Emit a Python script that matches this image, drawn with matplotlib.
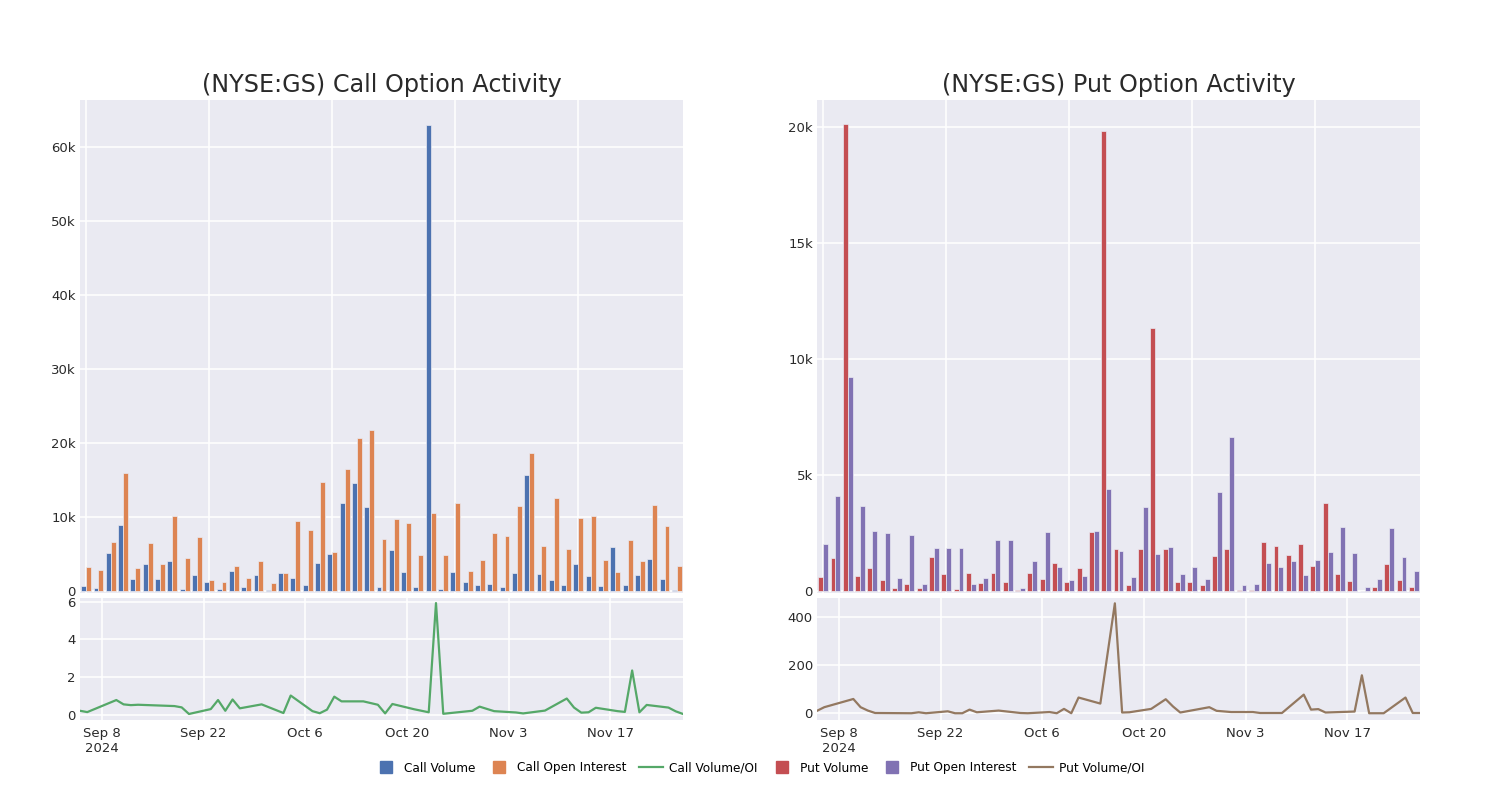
import numpy as np
import pandas as pd
import matplotlib
matplotlib.use("Agg")
import matplotlib.pyplot as plt
from matplotlib.lines import Line2D

# trading days shown (one bar pair per day)
dates = pd.to_datetime([
    "2024-09-05", "2024-09-06", "2024-09-10", "2024-09-11", "2024-09-12", "2024-09-13",
    "2024-09-18", "2024-09-19", "2024-09-20", "2024-09-23", "2024-09-24", "2024-09-25",
    "2024-09-26", "2024-09-27", "2024-09-30", "2024-10-03", "2024-10-04", "2024-10-07",
    "2024-10-08", "2024-10-09", "2024-10-10", "2024-10-11", "2024-10-14", "2024-10-16",
    "2024-10-17", "2024-10-18", "2024-10-21", "2024-10-23", "2024-10-24", "2024-10-25",
    "2024-10-29", "2024-10-30", "2024-11-01", "2024-11-04", "2024-11-05", "2024-11-08",
    "2024-11-11", "2024-11-12", "2024-11-13", "2024-11-14", "2024-11-15", "2024-11-18",
    "2024-11-19", "2024-11-20", "2024-11-21", "2024-11-22", "2024-11-25", "2024-11-26",
    "2024-11-27",
])

call_volume = [630, 360, 5090, 8830, 1580, 3560, 1620, 4000, 180, 2160, 1130, 230,
               2700, 540, 2120, 90, 2430, 1710, 720, 3780, 4950, 11850, 14500, 11350,
               450, 5540, 2520, 540, 62970, 230, 2480, 1130, 720, 950, 500, 2430,
               15680, 2250, 1490, 770, 3650, 1940, 590, 5900, 770, 2070, 4230, 1530, 90]
call_oi = [3240, 2840, 6580, 15860, 3110, 6490, 3600, 10100, 4370, 7200, 1440, 1170,
           3380, 1670, 3960, 990, 2390, 9370, 8240, 14680, 5230, 16490, 20590, 21700,
           6940, 9680, 9140, 4820, 10540, 4860, 11850, 2700, 4100, 7790, 7430, 11400,
           18650, 6040, 12480, 5680, 9860, 10140, 4190, 2480, 6850, 4010, 11580, 8780, 3290]
call_ratio = [0.21, 0.14, 0.78, 0.55, 0.51, 0.53, 0.46, 0.39, 0.04, 0.30, 0.78, 0.21,
              0.81, 0.34, 0.55, 0.09, 1.02, 0.19, 0.08, 0.27, 0.96, 0.71, 0.71, 0.53,
              0.07, 0.57, 0.29, 0.13, 5.93, 0.05, 0.21, 0.43, 0.19, 0.12, 0.07, 0.22,
              0.86, 0.38, 0.11, 0.13, 0.37, 0.19, 0.15, 2.35, 0.13, 0.52, 0.38, 0.18, 0.04]

put_volume = [600, 1410, 20100, 630, 990, 460, 100, 270, 130, 1450, 700, 70,
              780, 330, 760, 390, 10, 780, 490, 1190, 390, 960, 2530, 19800,
              1780, 230, 1780, 11310, 1780, 390, 390, 240, 1510, 1780, 30, 10,
              2080, 1910, 1520, 2030, 1080, 3800, 730, 430, 0, 140, 1160, 450, 170]
put_oi = [2000, 4080, 9190, 3670, 2590, 2470, 550, 2400, 290, 1850, 1850, 1850,
          300, 550, 2200, 2200, 120, 1270, 2520, 1040, 460, 630, 2570, 4400,
          1710, 600, 3610, 1580, 1880, 730, 1020, 500, 4240, 6640, 240, 300,
          1190, 1020, 1290, 690, 1320, 1670, 2730, 1610, 140, 500, 2690, 1470, 850]
put_ratio = [10, 25, 59, 25, 11, 1, 0, 4, 0, 8, 0, 0,
             15, 4, 11, 1, 0, 5, 0, 18, 0, 65, 40, 455,
             3, 4, 18, 58, 28, 3, 25, 10, 5, 5, 1, 1,
             77, 15, 17, 3, 4, 7, 157, 0, 0, 0, 65, 1, 1]

date_ticks = pd.to_datetime(["2024-09-08", "2024-09-22", "2024-10-06",
                             "2024-10-20", "2024-11-03", "2024-11-17"])
date_labels = ["Sep 8\n2024", "Sep 22", "Oct 6", "Oct 20", "Nov 3", "Nov 17"]

BG = "#EAEAF2"
W, H = 1500, 800


def px(l, t, r, b):
    return [l / W, 1 - b / H, (r - l) / W, (b - t) / H]


def style(ax):
    ax.set_facecolor(BG)
    for s in ax.spines.values():
        s.set_visible(False)
    ax.grid(True, color="white", lw=1.1)
    ax.set_axisbelow(True)
    ax.tick_params(length=0, labelsize=9.5, colors="#2a2a2a", pad=3)


def k_fmt(v, pos):
    return "0" if v == 0 else f"{int(v / 1000)}k"


fig = plt.figure(figsize=(15, 8), dpi=100)
x = np.arange(len(dates))

panels = [
    (80, "(NYSE:GS) Call Option Activity", call_volume, call_oi, call_ratio,
     ("#4C72B0", "#DD8452", "#55A868"), (-310, 66300), 10000, (-0.28, 6.2), [0, 2, 4, 6]),
    (817, "(NYSE:GS) Put Option Activity", put_volume, put_oi, put_ratio,
     ("#C44E52", "#8172B3", "#937860"), (-100, 21150), 5000, (-28, 477), [0, 200, 400]),
]

for left, title, vol, oi, ratio, cols, ylim, ystep, ylim2, yt2 in panels:
    ax = fig.add_axes(px(left, 100, left + 603, 593))
    style(ax)
    ax.bar(x - 0.2, vol, 0.4, color=cols[0], edgecolor=BG, linewidth=0.5)
    ax.bar(x + 0.2, oi, 0.4, color=cols[1], edgecolor=BG, linewidth=0.5)
    ax.set_xlim(-0.5, len(dates) - 0.5)
    ax.set_ylim(*ylim)
    ax.set_xticks([0, 10, 20, 30, 40])
    ax.set_xticklabels([])
    ax.set_yticks(np.arange(0, ylim[1], ystep))
    ax.yaxis.set_major_formatter(plt.FuncFormatter(k_fmt))
    ax.set_title(title, fontsize=17.2, color="#2a2a2a", pad=6)

    ax2 = fig.add_axes(px(left, 598, left + 603, 720))
    style(ax2)
    ax2.plot(dates, ratio, color=cols[2], lw=1.6)
    ax2.set_xlim(dates[0], dates[-1])
    ax2.set_ylim(*ylim2)
    ax2.set_yticks(yt2)
    ax2.set_xticks(date_ticks)
    ax2.set_xticklabels(date_labels)
    ax2.tick_params(axis="x", pad=5)

handles = [
    Line2D([], [], marker="s", ls="", color="#4C72B0", markersize=9),
    Line2D([], [], marker="s", ls="", color="#DD8452", markersize=9),
    Line2D([], [], color="#55A868", lw=1.6),
    Line2D([], [], marker="s", ls="", color="#C44E52", markersize=9),
    Line2D([], [], marker="s", ls="", color="#8172B3", markersize=9),
    Line2D([], [], color="#937860", lw=1.6),
]
labels = ["Call Volume", "Call Open Interest", "Call Volume/OI",
          "Put Volume", "Put Open Interest", "Put Volume/OI"]
fig.legend(handles, labels, loc="center", bbox_to_anchor=(0.506, 1 - 768 / H), ncol=6,
           frameon=False, fontsize=8.7, handlelength=2.0, columnspacing=1.0, handletextpad=0.5)

fig.savefig("out.png", dpi=100, facecolor="white")
